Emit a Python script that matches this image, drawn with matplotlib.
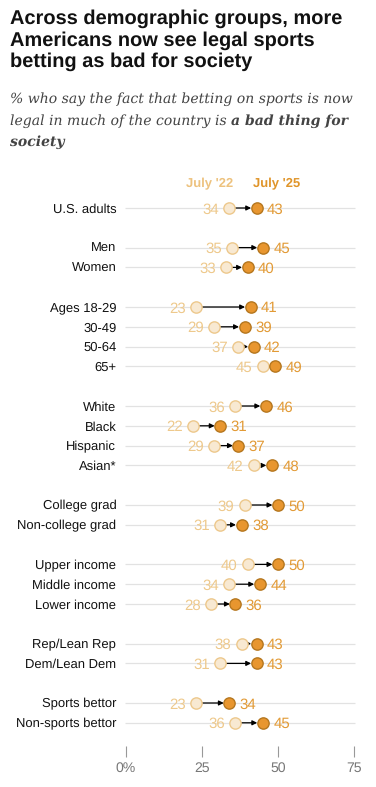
import numpy as np
from matplotlib import pyplot as plt

plt.rcParams["text.hinting"] = "no_hinting"
plt.rcParams["text.hinting_factor"] = 1

groups = [
    ["U.S. adults"],
    ["Men", "Women"],
    ["Ages 18-29", "30-49", "50-64", "65+"],
    ["White", "Black", "Hispanic", "Asian*"],
    ["College grad", "Non-college grad"],
    ["Upper income", "Middle income", "Lower income"],
    ["Rep/Lean Rep", "Dem/Lean Dem"],
    ["Sports bettor", "Non-sports bettor"],
]
july22 = [34, 35, 33, 23, 29, 37, 45, 36, 22, 29, 42, 39, 31, 40, 34, 28, 38, 31, 23, 36]
july25 = [43, 45, 40, 41, 39, 42, 49, 46, 31, 37, 48, 50, 38, 50, 44, 36, 43, 43, 34, 45]
xticks = [0, 25, 50, 75]
xticklabels = ["0%", "25", "50", "75"]

light_fill = "#F8E9D2"
light_edge = "#EDC88C"
light_text = "#EEC98C"
dark_fill = "#E8962F"
dark_edge = "#B5771F"
dark_text = "#E29A35"
sans = "Liberation Sans"

W, H = 376, 787
fig = plt.figure(figsize=(W / 100, H / 100), dpi=100)

# row slots, with a blank slot between groups
labels, pos = [], []
slot = 0
for g in groups:
    for name in g:
        labels.append(name)
        pos.append(slot)
        slot += 1
    slot += 1
pos = np.array(pos)

step = 19.8
y0 = 208
ax_top, ax_bot = 190, 746
ax_l, ax_r = 126, 354
ax = fig.add_axes([ax_l / W, 1 - ax_bot / H, (ax_r - ax_l) / W, (ax_bot - ax_top) / H])
ax.set_xlim(0, 75)
ax.set_ylim((ax_bot - y0) / step, (ax_top - y0) / step)

ax.hlines(pos, -0.4, 75.4, color="#E2E2E2", lw=0.9, zorder=1, clip_on=False)

r_units = 4.7 / ((ax_r - ax_l) / 75)  # marker radius in data units
for y, a, b in zip(pos, july22, july25):
    if b - a > 2 * r_units + 1.2:
        ax.annotate("", xy=(b - r_units - 0.3, y), xytext=(a + r_units + 0.2, y),
                    arrowprops=dict(arrowstyle="-|>", color="black", lw=0.9,
                                    mutation_scale=7, shrinkA=0, shrinkB=0), zorder=2)
    elif b - a > 2 * r_units:
        ax.annotate("", xy=(b - r_units - 0.2, y), xytext=(b - r_units - 0.9, y),
                    arrowprops=dict(arrowstyle="-|>", color="black", lw=0.9,
                                    mutation_scale=5, shrinkA=0, shrinkB=0), zorder=2)
ax.scatter(july22, pos, s=66, color=light_fill, edgecolor=light_edge, lw=1, zorder=3)
ax.scatter(july25, pos, s=66, color=dark_fill, edgecolor=dark_edge, lw=1, zorder=4)

for y, a, b in zip(pos, july22, july25):
    ax.annotate(str(a), (a, y), xytext=(-7.5, 0), textcoords="offset points",
                ha="right", va="center_baseline", fontsize=10.5, color=light_text,
                family=sans)
    ax.annotate(str(b), (b, y), xytext=(7.5, 0), textcoords="offset points",
                ha="left", va="center_baseline", fontsize=10.5, color=dark_text,
                family=sans)

ax.set_yticks(pos)
ax.set_yticklabels(labels, fontsize=9.3, family=sans, color="#111111")
ax.tick_params(axis="y", length=0, pad=7)
ax.set_xticks(xticks)
ax.set_xticklabels(xticklabels, fontsize=10, family=sans, color="#777777")
ax.tick_params(axis="x", length=8, width=0.8, color="#999999", pad=3.5, direction="out")
for s in ax.spines.values():
    s.set_visible(False)
ax.set_facecolor("none")

fig.text(210 / W, 1 - 184 / H, "July '22", ha="center", va="center", fontsize=9.5,
         weight="bold", color="#EDC27E", family=sans)
fig.text(277 / W, 1 - 184 / H, "July '25", ha="center", va="center", fontsize=9.5,
         weight="bold", color="#E0952A", family=sans)

fig.text(10 / W, 1 - 9 / H,
         "Across demographic groups, more\nAmericans now see legal sports\nbetting as bad for society",
         ha="left", va="top", fontsize=14.2, weight="bold", color="#111111",
         family=sans, linespacing=1.21)

sub_kw = dict(ha="left", va="center", fontsize=10.4, style="italic", color="#444444",
              family="DejaVu Serif")
fig.text(10 / W, 1 - 99 / H, "% who say the fact that betting on sports is now", **sub_kw)
t2 = fig.text(10 / W, 1 - 121 / H, "legal in much of the country is ", **sub_kw)
fig.canvas.draw()
bb = t2.get_window_extent(fig.canvas.get_renderer())
bold_kw = dict(sub_kw, weight="bold")
fig.text(bb.x1 / W, 1 - 121 / H, "a bad thing for", **bold_kw)
fig.text(10 / W, 1 - 142 / H, "society", **bold_kw)

fig.savefig("out.png", dpi=100)
